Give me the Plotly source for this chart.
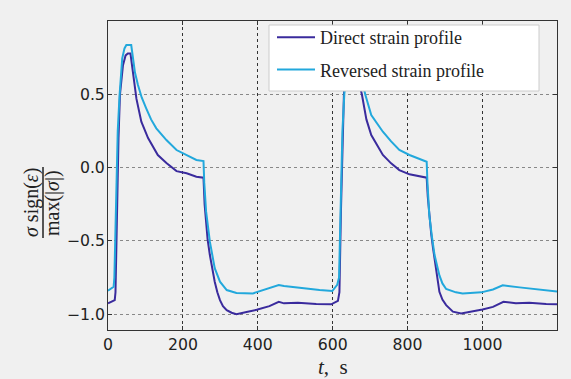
import plotly.graph_objects as go

# ---- data ----
t_direct = [0, 18, 20, 24, 28, 32, 36, 40, 47, 53, 60, 67, 76, 89, 107, 133, 156, 183, 210, 236, 255,
            258, 261, 266, 272, 278, 285, 292, 299, 307, 317, 330, 343, 370, 397, 431, 456, 470, 507, 556, 596,
            614, 618, 622, 626, 630, 634, 638, 645, 651, 658, 665, 678, 690, 703, 734, 756, 778, 805, 830, 851,
            854, 858, 863, 868, 874, 881, 885, 893, 903, 921, 943, 974, 1000, 1028, 1056, 1089, 1125, 1170, 1199]
y_direct = [-0.926, -0.904, -0.85, -0.30, 0.20, 0.50, 0.63, 0.70, 0.767, 0.78, 0.78, 0.633, 0.47, 0.314, 0.203,
            0.087, 0.032, -0.023, -0.038, -0.061, -0.068,
            -0.25, -0.37, -0.49, -0.596, -0.69, -0.778, -0.85, -0.904, -0.945, -0.972, -0.99, -1.0, -0.985, -0.97,
            -0.945, -0.915, -0.926, -0.922, -0.931, -0.933,
            -0.909, -0.85, -0.30, 0.20, 0.50, 0.63, 0.70, 0.767, 0.78, 0.78, 0.64, 0.50, 0.33, 0.223, 0.087, 0.03,
            -0.016, -0.045, -0.06, -0.068,
            -0.20, -0.33, -0.45, -0.55, -0.67, -0.778, -0.847, -0.90, -0.938, -0.983, -0.995, -0.983, -0.968,
            -0.95, -0.915, -0.926, -0.922, -0.931, -0.933]

t_reversed = [0, 15, 17, 22, 26, 31, 38, 44, 49, 62, 67, 72, 80, 90, 102, 115, 129, 156, 183, 209, 236, 255,
              257, 262, 272, 285, 299, 317, 343, 387, 423, 456, 470, 520, 565, 599,
              612, 617, 622, 626, 631, 638, 644, 649, 662, 668, 676, 687, 703, 734, 756, 778, 805, 832, 851,
              853, 858, 865, 872, 885, 893, 903, 929, 947, 997, 1028, 1054, 1099, 1143, 1179, 1199]
y_reversed = [-0.84, -0.813, -0.75, -0.20, 0.25, 0.50, 0.747, 0.815, 0.838, 0.838, 0.724, 0.65, 0.565, 0.48,
              0.406, 0.33, 0.269, 0.189, 0.121, 0.087, 0.053, 0.046,
              -0.10, -0.30, -0.505, -0.686, -0.778, -0.835, -0.855, -0.858, -0.831, -0.801, -0.808, -0.824,
              -0.835, -0.842,
              -0.80, -0.75, -0.20, 0.25, 0.50, 0.747, 0.815, 0.838, 0.838, 0.72, 0.62, 0.50, 0.36, 0.246, 0.18,
              0.121, 0.087, 0.059, 0.041,
              -0.10, -0.323, -0.47, -0.596, -0.735, -0.79, -0.828, -0.851, -0.858, -0.851, -0.831, -0.803,
              -0.817, -0.831, -0.84, -0.845]

series_names = ["Direct strain profile", "Reversed strain profile"]
x_ticks = [0, 200, 400, 600, 800, 1000]
y_ticks = [-1.0, -0.5, 0.0, 0.5]

# ---- figure ----
W, H = 571, 379
L, R, T, B = 108, 14, 21, 49
pw, ph = W - L - R, H - T - B

def px_to_paper_x(px):
    return (px - L) / pw

def py_to_paper_y(py):
    return (H - B - py) / ph

bg = "#f0f0f0"
serif = "Liberation Serif"

fig = go.Figure()
fig.add_trace(go.Scatter(x=t_direct, y=y_direct, mode="lines", name=series_names[0],
                         line=dict(color="#3a2b9d", width=2), legendgroup="a"))
fig.add_trace(go.Scatter(x=t_reversed, y=y_reversed, mode="lines", name=series_names[1],
                         line=dict(color="#22a8dc", width=2), legendgroup="b"))

axis_common = dict(
    showline=True, linecolor="#333333", linewidth=1, mirror="ticks",
    ticks="inside", ticklen=4, tickcolor="#333333",
    showgrid=True, griddash="dot", gridwidth=1,
    zeroline=False,
    tickfont=dict(family="DejaVu Sans", size=15.7, color="#222222"),
)

fig.update_xaxes(range=[0, 1199], tickvals=x_ticks, gridcolor="#333333", **axis_common)
fig.update_yaxes(range=[-1.108, 1.002], tickvals=y_ticks, tickformat=".1f", gridcolor="#888888",
                 ticklabelstandoff=-1, **axis_common)

# axis labels
fig.add_annotation(text="<i>t</i>,  s", xref="paper", yref="paper",
                   x=0.5, y=py_to_paper_y(367), xanchor="center", yanchor="middle",
                   showarrow=False, font=dict(family=serif, size=21, color="#222222"))

yc = py_to_paper_y(203)
fig.add_annotation(text="<i>σ</i> sign(<i>ε</i>)", xref="paper", yref="paper",
                   x=px_to_paper_x(31), y=yc, xanchor="center", yanchor="middle", textangle=-90,
                   showarrow=False, font=dict(family=serif, size=20, color="#222222"))
fig.add_annotation(text="max(|<i>σ</i>|)", xref="paper", yref="paper",
                   x=px_to_paper_x(52), y=yc, xanchor="center", yanchor="middle", textangle=-90,
                   showarrow=False, font=dict(family=serif, size=20, color="#222222"))
fig.add_shape(type="line", xref="paper", yref="paper",
              x0=px_to_paper_x(43), x1=px_to_paper_x(43),
              y0=py_to_paper_y(167), y1=py_to_paper_y(238),
              line=dict(color="#222222", width=1.5))

# legend frame (drawn above the curves, legend entries sit on it)
fig.add_shape(type="rect", xref="paper", yref="paper", layer="above",
              x0=px_to_paper_x(269), x1=px_to_paper_x(539),
              y0=py_to_paper_y(91), y1=py_to_paper_y(25),
              fillcolor="white", line=dict(color="#cccccc", width=1))

fig.update_layout(
    width=W, height=H,
    margin=dict(l=L, r=R, t=T, b=B),
    paper_bgcolor=bg, plot_bgcolor=bg,
    showlegend=True,
    legend=dict(x=px_to_paper_x(272), y=py_to_paper_y(19), xanchor="left", yanchor="top",
                bgcolor="rgba(0,0,0,0)", borderwidth=0, itemwidth=38,
                font=dict(family=serif, size=18, color="#222222"),
                tracegroupgap=6),
)

fig.write_html("out.html")
